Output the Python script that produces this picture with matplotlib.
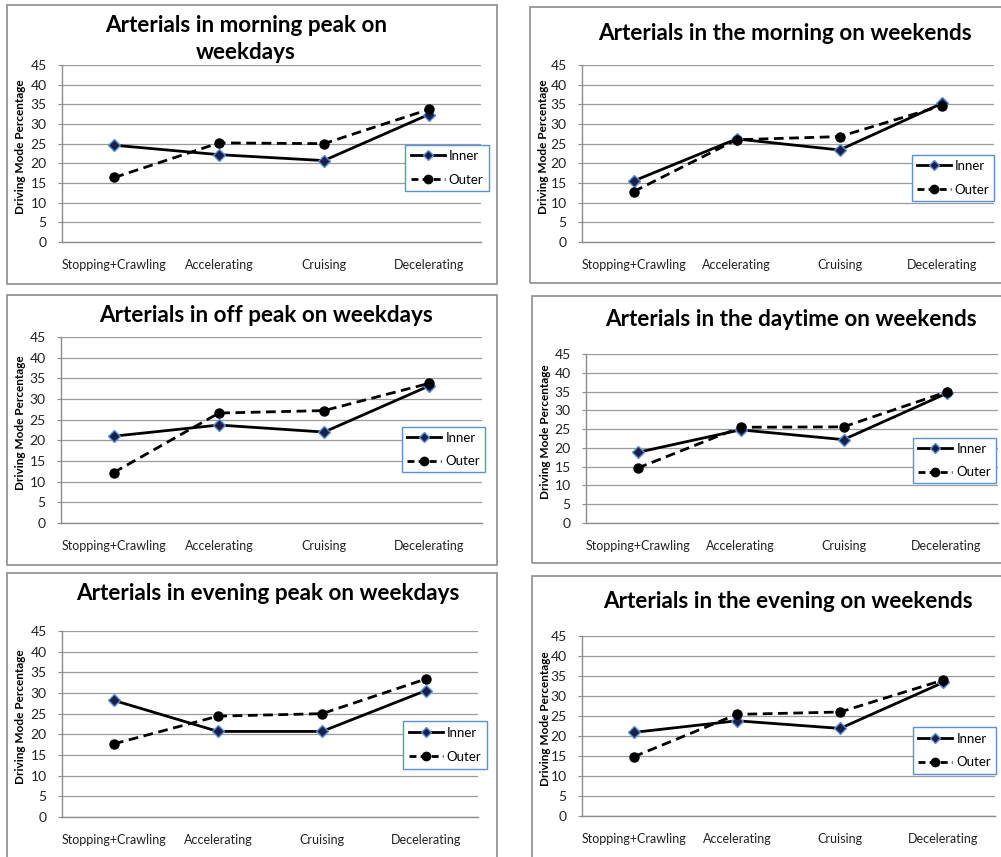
import matplotlib.pyplot as plt
from matplotlib.patches import Rectangle
from matplotlib.lines import Line2D

plt.rcParams['font.family'] = ['Lato', 'DejaVu Sans']

categories = ['Stopping+Crawling', 'Accelerating', 'Cruising', 'Decelerating']
y_ticks = [0, 5, 10, 15, 20, 25, 30, 35, 40, 45]

titles = [
    'Arterials in morning peak on\nweekdays',
    'Arterials in the morning on weekends',
    'Arterials in off peak on weekdays',
    'Arterials in the daytime on weekends',
    'Arterials in evening peak on weekdays',
    'Arterials in the evening on weekends',
]

inner_morning_wd = [24.6, 22.2, 20.7, 32.4]
outer_morning_wd = [16.4, 25.2, 25.0, 33.7]
inner_morning_we = [15.5, 26.2, 23.4, 35.3]
outer_morning_we = [12.8, 26.0, 26.8, 34.7]
inner_offpeak_wd = [21.0, 23.7, 22.0, 33.2]
outer_offpeak_wd = [12.2, 26.6, 27.2, 33.8]
inner_daytime_we = [18.8, 24.8, 22.2, 34.5]
outer_daytime_we = [14.6, 25.5, 25.6, 34.9]
inner_evening_wd = [28.2, 20.7, 20.7, 30.6]
outer_evening_wd = [17.7, 24.4, 25.0, 33.4]
inner_evening_we = [20.9, 23.8, 21.9, 33.4]
outer_evening_we = [14.8, 25.4, 26.0, 34.0]

inner_series = [inner_morning_wd, inner_morning_we, inner_offpeak_wd,
                inner_daytime_we, inner_evening_wd, inner_evening_we]
outer_series = [outer_morning_wd, outer_morning_we, outer_offpeak_wd,
                outer_daytime_we, outer_evening_wd, outer_evening_we]

W, H = 1001, 857
fig = plt.figure(figsize=(W / 100, H / 100), dpi=100)

# pixel layout: chart frame, plot area, legend box, title centre, y label x
frames = [(7, 5, 497, 284), (530, 7, 1010, 283),
          (7, 295, 497, 565), (532, 296, 1010, 563),
          (7, 573, 497, 870), (532, 576, 1010, 870)]
plots = [(62, 65, 481, 242), (582, 65, 994, 242),
         (61, 337, 482, 523), (586, 354, 998, 523),
         (62, 631, 478, 817), (582, 636, 995, 816)]
legends = [(405, 145, 489, 191), (912, 155, 994, 201),
           (402, 427, 485, 472), (913, 438, 996, 483),
           (403, 721, 487, 769), (913, 727, 996, 774)]
title_pos = [(246, 39), (785, 33), (266, 315), (791, 320), (268, 594), (788, 602)]
ylabel_x = [26, 549, 26, 551, 26, 551]


def fx(px):
    return px / W


def fy(py):
    return 1 - py / H


for i in range(6):
    x0, y0, x1, y1 = frames[i]
    fig.add_artist(Rectangle((fx(x0), fy(y1)), fx(x1 - x0), (y1 - y0) / H,
                             transform=fig.transFigure, fill=False,
                             edgecolor='#8c8c8c', linewidth=1.2))

    px0, py0, px1, py1 = plots[i]
    ax = fig.add_axes([fx(px0), fy(py1), fx(px1 - px0), (py1 - py0) / H])
    xs = range(len(categories))
    ax.plot(xs, inner_series[i], color='black', linewidth=2, marker='D',
            markersize=6, markerfacecolor='#1a1f4a', markeredgecolor='#5b8fd6',
            markeredgewidth=1, label='Inner', zorder=3)
    ax.plot(xs, outer_series[i], color='black', linewidth=2, linestyle=(0, (3.5, 2)),
            marker='o', markersize=6.5, markerfacecolor='black',
            markeredgecolor='black', label='Outer', zorder=3)
    ax.set_xlim(-0.5, 3.5)
    ax.set_ylim(0, 45)
    ax.set_yticks(y_ticks)
    ax.set_xticks(list(xs))
    ax.set_xticklabels(categories, fontsize=9, color='#222222')
    ax.tick_params(axis='x', length=0, pad=12)
    ax.tick_params(axis='y', length=3, width=0.8, color='#8c8c8c',
                   labelsize=10, labelcolor='#222222', pad=8)
    ax.grid(axis='y', color='#9a9a9a', linewidth=0.9)
    ax.set_axisbelow(True)
    for s in ['top', 'right']:
        ax.spines[s].set_visible(False)
    for s in ['left', 'bottom']:
        ax.spines[s].set_color('#8c8c8c')
        ax.spines[s].set_linewidth(1)
    ax.set_ylabel('Driving Mode Percentage', fontsize=8.5, fontweight='bold')
    ax.yaxis.set_label_coords((ylabel_x[i] - px0) / (px1 - px0), 0.54)
    ax.patch.set_alpha(0)

    tx, ty = title_pos[i]
    fig.text(fx(tx), fy(ty), titles[i], ha='center', va='center',
             fontsize=16.2, fontweight='bold', linespacing=1.35)

    lx0, ly0, lx1, ly1 = legends[i]
    fig.add_artist(Rectangle((fx(lx0), fy(ly1)), fx(lx1 - lx0), (ly1 - ly0) / H,
                             transform=fig.transFigure, facecolor='white',
                             edgecolor='#5b8fd6', linewidth=1, zorder=5))
    handles = [
        Line2D([], [], color='black', linewidth=2, marker='D', markersize=5,
               markerfacecolor='#1a1f4a', markeredgecolor='#5b8fd6'),
        Line2D([], [], color='black', linewidth=2, linestyle=(0, (2.5, 1.5)),
               marker='o', markersize=6, markerfacecolor='black'),
    ]
    leg = fig.legend(handles, ['Inner', 'Outer'],
                     loc='center', bbox_to_anchor=(fx((lx0 + lx1) / 2), fy((ly0 + ly1) / 2)),
                     frameon=False, fontsize=9.5, handlelength=2.6,
                     handletextpad=0.3, labelspacing=0.9, borderpad=0)
    leg.set_zorder(6)

fig.savefig('out.png', dpi=100)
